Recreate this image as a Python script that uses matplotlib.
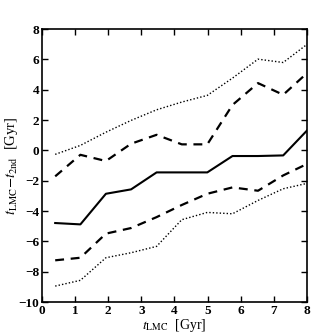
import matplotlib
matplotlib.use("Agg")
import matplotlib.pyplot as plt

plt.rcParams["mathtext.fontset"] = "stix"
plt.rcParams["font.family"] = "Liberation Serif"

# age of LMC (Gyr)
t_lmc = [0.4, 1.16, 1.93, 2.69, 3.46, 4.22, 4.99, 5.75, 6.52, 7.28, 8.05]

median = [-4.79, -4.88, -2.86, -2.57, -1.45, -1.45, -1.45, -0.37, -0.37, -0.33, 1.43]
upper_1s = [-1.71, -0.29, -0.70, 0.44, 1.03, 0.40, 0.40, 3.00, 4.44, 3.67, 5.20]
lower_1s = [-7.25, -7.08, -5.49, -5.12, -4.40, -3.60, -2.86, -2.44, -2.66, -1.65, -0.84]
upper_2s = [-0.26, 0.33, 1.20, 1.98, 2.68, 3.19, 3.63, 4.77, 6.02, 5.80, 7.08]
lower_2s = [-8.95, -8.57, -7.08, -6.75, -6.33, -4.57, -4.09, -4.18, -3.30, -2.53, -2.15]

xticks = [0, 1, 2, 3, 4, 5, 6, 7, 8]
yticks = [-10, -8, -6, -4, -2, 0, 2, 4, 6, 8]

fig = plt.figure(figsize=(3.13, 3.35), dpi=100)
ax = fig.add_axes([0.134, 0.0985, 0.847, 0.8145])

ax.plot(t_lmc, median, color="black", lw=1.5, ls="-")
ax.plot(t_lmc, upper_1s, color="black", lw=1.6, ls=(0, (4, 3)))
ax.plot(t_lmc, lower_1s, color="black", lw=1.6, ls=(0, (4, 3)))
ax.plot(t_lmc, upper_2s, color="black", lw=1.0, ls=(0, (1, 1.5)))
ax.plot(t_lmc, lower_2s, color="black", lw=1.0, ls=(0, (1, 1.5)))

ax.set_xlim(0, 8)
ax.set_ylim(-10, 8)
ax.set_xticks(xticks)
ax.set_yticks(yticks)
ax.set_xticklabels([str(v) for v in xticks], fontweight="bold", fontsize=9.5)
ax.set_yticklabels([str(v).replace("-", "\u2212") for v in yticks], fontweight="bold", fontsize=9.5)
ax.tick_params(direction="in", top=True, right=True, length=4, width=1, pad=2)
for s in ax.spines.values():
    s.set_linewidth(1.2)

ax.set_xlabel(r"$t_{\rm LMC}$  [Gyr]", fontsize=10, labelpad=0)
ax.set_ylabel(r"$t_{\rm LMC}\!-\!t_{\rm 2nd}$  [Gyr]", fontsize=10.5, labelpad=-1)

fig.savefig("out.png", dpi=100)
